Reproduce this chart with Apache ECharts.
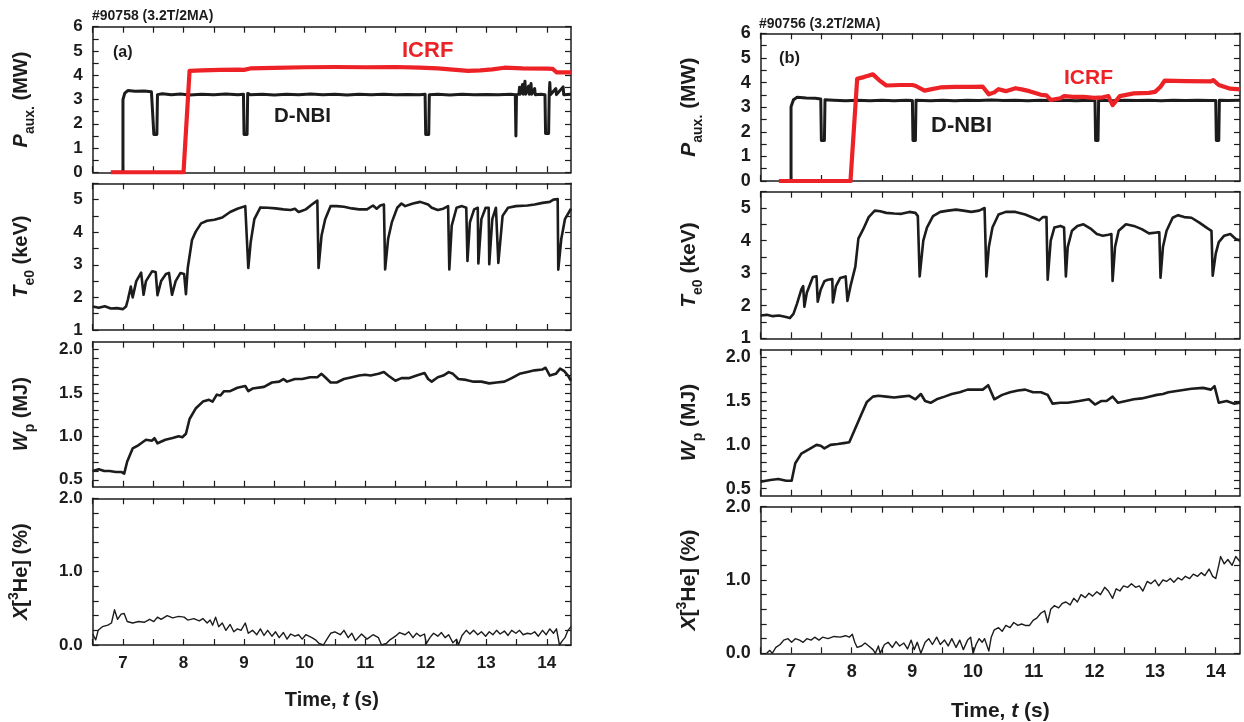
<!DOCTYPE html>
<html><head><meta charset="utf-8">
<script src="https://cdn.jsdelivr.net/npm/echarts@6/dist/echarts.min.js"></script>
<style>html,body{margin:0;padding:0;background:#fff}#c{width:1244px;height:722px}</style>
</head><body><div id="c"></div>
<script>
// ---------------- DATA ----------------
const timeTicks = [6.5,7,7.5,8,8.5,9,9.5,10,10.5,11,11.5,12,12.5,13,13.5,14];
const timeLabels = [7,8,9,10,11,12,13,14];
const pTicks = [0,0.5,1,1.5,2,2.5,3,3.5,4,4.5,5,5.5,6];
const pLabels = [0,1,2,3,4,5,6];
const teTicks = [1,1.5,2,2.5,3,3.5,4,4.5,5,5.5];
const teLabels = [1,2,3,4,5];
const wpTicks = [0.5,0.6,0.7,0.8,0.9,1.0,1.1,1.2,1.3,1.4,1.5,1.6,1.7,1.8,1.9,2.0];
const wpLabels = [0.5,1.0,1.5,2.0];
const heTicks = [0,0.2,0.4,0.6,0.8,1.0,1.2,1.4,1.6,1.8,2.0];
const heLabels = [0,1.0,2.0];

// shot #90758 (a)
const nbiA = [[6.8,0],[7.0,0],[7.0,3.0],[7.03,3.26],[7.08,3.37],[7.2,3.34],[7.35,3.35],[7.47,3.32],[7.5,3.28],[7.51,1.56],[7.56,1.56],[7.57,3.2],[7.65,3.24],[7.8,3.2],[7.95,3.23],[8.1,3.19],[8.3,3.22],[8.5,3.2],[8.7,3.23],[8.9,3.2],[8.99,3.22],[9.0,1.56],[9.05,1.56],[9.06,3.25],[9.1,3.2],[9.3,3.22],[9.5,3.19],[9.7,3.22],[9.9,3.2],[10.1,3.23],[10.3,3.2],[10.5,3.22],[10.7,3.19],[10.9,3.22],[11.1,3.2],[11.3,3.22],[11.5,3.2],[11.7,3.21],[11.9,3.2],[11.99,3.22],[12.0,1.56],[12.05,1.56],[12.06,3.2],[12.2,3.22],[12.4,3.19],[12.6,3.22],[12.8,3.2],[13.0,3.21],[13.2,3.2],[13.4,3.22],[13.48,3.2],[13.49,1.5],[13.5,3.2],[13.54,3.22],[13.55,3.5],[13.56,3.22],[13.6,3.62],[13.61,3.22],[13.64,3.75],[13.65,3.22],[13.7,3.55],[13.71,3.22],[13.74,3.66],[13.75,3.22],[13.8,3.45],[13.81,3.2],[13.9,3.22],[13.97,3.2],[13.98,1.6],[14.03,1.6],[14.04,3.2],[14.05,3.7],[14.06,3.2],[14.15,3.45],[14.16,3.2],[14.27,3.52],[14.28,3.2],[14.4,3.22]];
const icrfA = [[6.8,0],[8.0,0],[8.1,4.18],[8.3,4.2],[8.6,4.22],[8.9,4.23],[9.0,4.22],[9.1,4.28],[9.5,4.3],[10.0,4.33],[10.5,4.34],[11.0,4.33],[11.5,4.34],[11.9,4.31],[12.2,4.28],[12.5,4.22],[12.7,4.18],[12.9,4.2],[13.1,4.24],[13.3,4.31],[13.6,4.28],[14.0,4.27],[14.1,4.26],[14.16,4.12],[14.4,4.12]];
const teA = [[6.5,1.72],[6.6,1.68],[6.7,1.73],[6.8,1.66],[6.9,1.67],[7.0,1.64],[7.05,1.72],[7.08,1.92],[7.13,2.33],[7.16,2.0],[7.22,2.5],[7.3,2.76],[7.33,2.72],[7.34,2.08],[7.38,2.5],[7.48,2.8],[7.54,2.78],[7.57,2.07],[7.63,2.5],[7.71,2.72],[7.76,2.75],[7.81,2.08],[7.87,2.5],[7.95,2.75],[8.01,2.72],[8.04,2.1],[8.07,2.9],[8.14,3.76],[8.2,4.01],[8.29,4.27],[8.39,4.35],[8.51,4.38],[8.64,4.45],[8.77,4.62],[8.89,4.72],[9.02,4.8],[9.05,4.78],[9.07,2.9],[9.11,3.7],[9.17,4.4],[9.27,4.76],[9.39,4.75],[9.52,4.73],[9.65,4.7],[9.77,4.68],[9.84,4.72],[9.9,4.62],[9.96,4.66],[10.02,4.7],[10.12,4.85],[10.21,4.97],[10.23,2.9],[10.28,3.9],[10.34,4.4],[10.43,4.8],[10.53,4.8],[10.65,4.78],[10.78,4.73],[10.9,4.7],[11.03,4.7],[11.13,4.82],[11.19,4.72],[11.25,4.82],[11.31,4.85],[11.33,2.86],[11.38,3.8],[11.44,4.3],[11.53,4.75],[11.6,4.88],[11.66,4.8],[11.79,4.88],[11.91,4.93],[12.04,4.85],[12.1,4.75],[12.2,4.68],[12.29,4.72],[12.37,4.8],[12.39,2.86],[12.43,4.2],[12.51,4.75],[12.6,4.8],[12.67,4.75],[12.69,3.12],[12.73,4.3],[12.8,4.7],[12.86,4.75],[12.87,3.04],[12.92,4.4],[12.99,4.75],[13.04,4.75],[13.05,3.02],[13.1,4.4],[13.16,4.75],[13.19,4.7],[13.2,3.06],[13.27,4.5],[13.36,4.75],[13.49,4.8],[13.68,4.82],[13.8,4.85],[13.93,4.9],[14.05,4.93],[14.11,5.0],[14.18,5.02],[14.19,2.85],[14.24,3.8],[14.3,4.4],[14.4,4.72]];
const wpA = [[6.5,0.6],[6.6,0.62],[6.69,0.6],[6.78,0.6],[6.88,0.59],[6.97,0.59],[7.02,0.57],[7.07,0.71],[7.16,0.86],[7.26,0.9],[7.38,0.96],[7.48,0.95],[7.52,0.98],[7.57,0.92],[7.7,0.96],[7.82,0.98],[7.92,1.0],[7.98,0.99],[8.04,1.03],[8.1,1.2],[8.2,1.32],[8.32,1.4],[8.42,1.42],[8.48,1.4],[8.55,1.48],[8.61,1.47],[8.67,1.52],[8.77,1.52],[8.89,1.56],[9.02,1.58],[9.07,1.52],[9.14,1.55],[9.33,1.57],[9.46,1.62],[9.58,1.63],[9.65,1.66],[9.71,1.63],[9.84,1.66],[9.96,1.66],[10.09,1.68],[10.21,1.68],[10.28,1.72],[10.34,1.68],[10.43,1.62],[10.53,1.62],[10.65,1.66],[10.78,1.68],[10.9,1.7],[11.0,1.71],[11.09,1.7],[11.22,1.72],[11.31,1.74],[11.38,1.7],[11.5,1.64],[11.6,1.67],[11.72,1.67],[11.85,1.7],[11.98,1.73],[12.04,1.66],[12.1,1.63],[12.2,1.68],[12.29,1.7],[12.38,1.74],[12.45,1.72],[12.54,1.66],[12.67,1.65],[12.79,1.63],[12.92,1.63],[13.05,1.61],[13.17,1.62],[13.3,1.63],[13.42,1.67],[13.55,1.72],[13.68,1.74],[13.8,1.76],[13.93,1.77],[13.98,1.79],[14.05,1.7],[14.15,1.72],[14.22,1.78],[14.29,1.75],[14.35,1.7],[14.4,1.64]];
const he3A = [[6.5,0.15],[6.55,0.07],[6.59,0.2],[6.66,0.25],[6.75,0.27],[6.81,0.3],[6.86,0.48],[6.91,0.35],[6.97,0.42],[7.02,0.43],[7.07,0.32],[7.16,0.3],[7.26,0.32],[7.35,0.31],[7.44,0.35],[7.51,0.32],[7.57,0.38],[7.63,0.35],[7.73,0.4],[7.82,0.37],[7.92,0.39],[8.01,0.38],[8.07,0.34],[8.17,0.36],[8.26,0.33],[8.32,0.36],[8.39,0.3],[8.44,0.34],[8.48,0.27],[8.53,0.38],[8.58,0.25],[8.64,0.3],[8.7,0.2],[8.77,0.28],[8.83,0.18],[8.89,0.22],[8.95,0.2],[9.02,0.3],[9.07,0.16],[9.14,0.2],[9.21,0.14],[9.27,0.22],[9.33,0.13],[9.39,0.2],[9.46,0.12],[9.52,0.18],[9.58,0.1],[9.65,0.17],[9.71,0.08],[9.77,0.15],[9.84,0.12],[9.9,0.14],[9.96,0.08],[10.02,0.14],[10.12,0.1],[10.18,0.07],[10.24,0.02],[10.31,0.0],[10.37,0.08],[10.43,0.16],[10.5,0.18],[10.59,0.14],[10.65,0.2],[10.72,0.1],[10.78,0.16],[10.84,0.06],[10.94,0.15],[11.03,0.08],[11.13,0.14],[11.22,0.1],[11.27,0.0],[11.35,0.02],[11.41,0.07],[11.5,0.12],[11.57,0.17],[11.66,0.14],[11.72,0.18],[11.79,0.1],[11.85,0.16],[11.91,0.12],[11.98,0.15],[12.01,0.02],[12.07,0.1],[12.13,0.16],[12.2,0.12],[12.26,0.17],[12.32,0.1],[12.38,0.14],[12.45,0.03],[12.51,0.08],[12.54,0.0],[12.6,0.13],[12.67,0.2],[12.73,0.15],[12.79,0.2],[12.86,0.14],[12.92,0.18],[12.99,0.12],[13.05,0.18],[13.11,0.14],[13.17,0.2],[13.23,0.15],[13.3,0.19],[13.36,0.13],[13.42,0.2],[13.49,0.16],[13.55,0.2],[13.61,0.14],[13.68,0.16],[13.74,0.15],[13.8,0.18],[13.86,0.12],[13.93,0.2],[13.99,0.14],[14.05,0.22],[14.11,0.16],[14.16,0.22],[14.21,0.0],[14.25,0.05],[14.3,0.1],[14.35,0.2],[14.4,0.25]];

// shot #90756 (b)
const nbiB = [[6.8,0],[7.0,0],[7.0,3.02],[7.04,3.3],[7.1,3.4],[7.25,3.37],[7.4,3.36],[7.49,3.33],[7.5,1.65],[7.55,1.65],[7.56,3.3],[7.7,3.28],[7.9,3.26],[8.1,3.28],[8.3,3.26],[8.5,3.28],[8.7,3.26],[8.9,3.28],[9.0,3.27],[9.01,1.65],[9.05,1.65],[9.06,3.28],[9.3,3.26],[9.5,3.28],[9.7,3.26],[9.9,3.28],[10.1,3.27],[10.3,3.29],[10.5,3.27],[10.7,3.28],[10.9,3.26],[11.1,3.28],[11.3,3.27],[11.5,3.28],[11.7,3.26],[11.9,3.28],[12.01,3.27],[12.02,1.65],[12.06,1.65],[12.07,3.28],[12.3,3.26],[12.5,3.28],[12.7,3.27],[12.9,3.28],[13.1,3.26],[13.3,3.28],[13.5,3.27],[13.7,3.28],[13.9,3.27],[14.0,3.27],[14.01,1.65],[14.05,1.65],[14.06,3.28],[14.2,3.27],[14.4,3.28]];
const icrfB = [[6.8,0],[7.98,0],[8.09,4.15],[8.2,4.22],[8.3,4.3],[8.35,4.33],[8.45,4.1],[8.57,3.88],[8.8,3.9],[9.0,3.9],[9.05,3.87],[9.2,3.67],[9.3,3.72],[9.46,3.8],[9.7,3.82],[10.0,3.82],[10.16,3.83],[10.26,3.52],[10.35,3.6],[10.42,3.73],[10.54,3.65],[10.7,3.77],[10.8,3.72],[10.93,3.65],[11.12,3.5],[11.21,3.48],[11.28,3.29],[11.44,3.36],[11.5,3.45],[11.65,3.42],[11.82,3.42],[12.0,3.38],[12.14,3.4],[12.23,3.45],[12.3,3.08],[12.42,3.45],[12.65,3.56],[12.9,3.58],[13.0,3.62],[13.09,3.83],[13.12,3.8],[13.16,4.08],[13.5,4.06],[13.92,4.05],[13.96,4.1],[14.05,3.9],[14.24,3.75],[14.4,3.72]];
const teB = [[6.5,1.7],[6.6,1.72],[6.7,1.68],[6.8,1.7],[6.9,1.66],[6.98,1.62],[7.04,1.75],[7.1,2.07],[7.17,2.5],[7.2,2.6],[7.22,1.97],[7.26,2.4],[7.36,2.88],[7.42,2.9],[7.44,2.12],[7.49,2.5],[7.55,2.75],[7.61,2.8],[7.68,2.82],[7.69,2.1],[7.74,2.6],[7.81,2.85],[7.9,2.9],[7.93,2.15],[7.98,2.6],[8.06,3.2],[8.11,4.06],[8.19,4.35],[8.28,4.72],[8.38,4.92],[8.47,4.9],[8.57,4.85],[8.7,4.83],[8.82,4.82],[8.95,4.88],[9.05,4.85],[9.09,4.75],[9.12,2.9],[9.18,4.0],[9.24,4.4],[9.34,4.75],[9.46,4.88],[9.59,4.92],[9.72,4.95],[9.84,4.92],[9.97,4.88],[10.1,4.92],[10.19,5.0],[10.22,2.9],[10.26,3.8],[10.32,4.4],[10.42,4.8],[10.54,4.88],[10.7,4.88],[10.86,4.8],[10.99,4.7],[11.09,4.62],[11.15,4.72],[11.21,4.72],[11.23,2.8],[11.28,4.0],[11.34,4.4],[11.44,4.45],[11.5,4.4],[11.53,2.9],[11.56,3.8],[11.63,4.3],[11.72,4.45],[11.82,4.5],[11.95,4.35],[12.04,4.2],[12.14,4.15],[12.23,4.18],[12.28,4.2],[12.3,2.76],[12.34,3.8],[12.4,4.3],[12.52,4.5],[12.65,4.45],[12.78,4.35],[12.9,4.22],[13.03,4.25],[13.07,4.25],[13.09,2.86],[13.13,3.8],[13.19,4.3],[13.29,4.7],[13.38,4.78],[13.48,4.72],[13.6,4.7],[13.73,4.55],[13.86,4.38],[13.93,4.3],[13.95,2.92],[14.0,3.6],[14.05,3.95],[14.14,4.15],[14.24,4.2],[14.33,4.05],[14.4,4.0]];
const wpB = [[6.5,0.58],[6.66,0.6],[6.79,0.61],[6.92,0.59],[7.01,0.59],[7.07,0.79],[7.17,0.9],[7.3,0.95],[7.42,1.0],[7.49,0.99],[7.55,0.96],[7.65,1.0],[7.77,1.01],[7.87,1.02],[7.96,1.03],[7.99,1.02],[8.06,1.19],[8.16,1.35],[8.25,1.49],[8.35,1.55],[8.44,1.56],[8.57,1.55],[8.7,1.54],[8.82,1.55],[8.95,1.56],[9.05,1.52],[9.14,1.58],[9.21,1.5],[9.3,1.48],[9.4,1.52],[9.53,1.55],[9.65,1.58],[9.78,1.6],[9.91,1.63],[10.04,1.63],[10.16,1.63],[10.25,1.68],[10.35,1.52],[10.48,1.57],[10.61,1.6],[10.74,1.62],[10.86,1.63],[10.99,1.6],[11.12,1.6],[11.23,1.57],[11.31,1.47],[11.44,1.48],[11.56,1.48],[11.75,1.5],[11.91,1.52],[12.01,1.46],[12.11,1.5],[12.2,1.5],[12.3,1.55],[12.39,1.48],[12.52,1.5],[12.65,1.52],[12.78,1.53],[12.9,1.55],[13.03,1.57],[13.13,1.58],[13.22,1.6],[13.41,1.62],[13.6,1.64],[13.79,1.65],[13.92,1.63],[13.98,1.67],[14.05,1.48],[14.18,1.5],[14.3,1.47],[14.4,1.48]];
const he3B = [[6.6,0.0],[6.65,0.04],[6.69,0.0],[6.75,0.08],[6.82,0.12],[6.88,0.18],[6.95,0.2],[7.01,0.15],[7.07,0.2],[7.14,0.18],[7.2,0.15],[7.26,0.2],[7.33,0.18],[7.39,0.22],[7.46,0.18],[7.52,0.22],[7.61,0.2],[7.71,0.23],[7.81,0.22],[7.9,0.24],[7.96,0.22],[8.01,0.26],[8.05,0.15],[8.09,0.08],[8.16,0.1],[8.22,0.14],[8.28,0.1],[8.35,0.05],[8.39,0.0],[8.44,0.1],[8.47,0.0],[8.54,0.12],[8.6,0.15],[8.67,0.08],[8.73,0.16],[8.79,0.1],[8.86,0.14],[8.92,0.06],[8.98,0.18],[9.03,0.05],[9.08,0.15],[9.14,0.0],[9.21,0.15],[9.27,0.2],[9.33,0.12],[9.4,0.22],[9.46,0.12],[9.53,0.18],[9.59,0.1],[9.65,0.2],[9.72,0.08],[9.78,0.18],[9.84,0.05],[9.91,0.18],[9.96,0.22],[10.0,0.0],[10.05,0.12],[10.1,0.2],[10.15,0.15],[10.19,0.2],[10.26,0.03],[10.3,0.22],[10.35,0.32],[10.42,0.35],[10.48,0.3],[10.54,0.38],[10.61,0.35],[10.67,0.42],[10.74,0.38],[10.8,0.4],[10.86,0.38],[10.93,0.38],[10.99,0.45],[11.05,0.48],[11.12,0.55],[11.18,0.58],[11.23,0.42],[11.28,0.6],[11.34,0.65],[11.41,0.62],[11.47,0.68],[11.53,0.7],[11.6,0.66],[11.66,0.75],[11.72,0.7],[11.78,0.8],[11.85,0.76],[11.91,0.82],[11.97,0.78],[12.04,0.84],[12.1,0.8],[12.17,0.9],[12.23,0.85],[12.3,0.75],[12.36,0.88],[12.42,0.85],[12.48,0.92],[12.55,0.9],[12.61,0.95],[12.68,0.9],[12.74,0.92],[12.8,0.85],[12.87,0.98],[12.93,0.95],[13.0,1.0],[13.06,0.92],[13.13,1.0],[13.19,0.98],[13.25,1.02],[13.31,0.97],[13.38,1.03],[13.44,1.0],[13.5,1.05],[13.57,1.02],[13.63,1.08],[13.7,1.05],[13.76,1.1],[13.82,1.06],[13.89,1.15],[13.95,1.05],[14.0,1.02],[14.05,1.2],[14.08,1.32],[14.14,1.22],[14.2,1.28],[14.27,1.2],[14.33,1.32],[14.4,1.25]];

const headerA = '#90758 (3.2T/2MA)';
const headerB = '#90756 (3.2T/2MA)';

// ---------------- LAYOUT / STYLE ----------------
const FONT = '"Liberation Sans", Arial, Helvetica, sans-serif';
const INK = '#1c1c1c';
const RED = '#ec2227';
const cols = [
  {left:92.7, width:478.3, tops:[26.7,183.3,341.7,498.3], heights:[145.6,146.7,145,146.7], tick:17, name:20, xGap:40, yGap:56},
  {left:760.7, width:479.3, tops:[33.3,191.7,349.3,506.7], heights:[147.7,146.6,146.4,146.6], tick:18, name:21, xGap:43, yGap:56}
];
const rowsSpec = [
  {min:0, max:6, ticks:pTicks, labels:pLabels, dec:0, name:'{i|P}{sub|aux.}{n| (MW)}'},
  {min:1, max:5.5, ticks:teTicks, labels:teLabels, dec:0, name:'{i|T}{sub|e0}{n| (keV)}'},
  {min:0.42, max:2.09, ticks:wpTicks, labels:wpLabels, dec:1, name:'{i|W}{sub|p}{n| (MJ)}'},
  {min:0, max:2, ticks:heTicks, labels:heLabels, dec:1, name:'{i|X}{n|[}{sup|3}{n|He] (%)}'}
];
const seriesData = [
  [[nbiA, INK, 3, 'D-NBI'], [icrfA, RED, 4.2, 'ICRF']],
  [[teA, INK, 2.6, 'Te0']],
  [[wpA, INK, 2.6, 'Wp']],
  [[he3A, INK, 1.4, 'X3He']],
  [[nbiB, INK, 3, 'D-NBI'], [icrfB, RED, 4.2, 'ICRF']],
  [[teB, INK, 2.6, 'Te0']],
  [[wpB, INK, 2.6, 'Wp']],
  [[he3B, INK, 1.4, 'X3He']]
];

const grids = [], xAxes = [], yAxes = [], series = [];
const lineSt = {color: INK, width: 1.5};
const tickSt = {color: INK, width: 1.2};
function rich(fs) {
  return {
    n: {fontFamily: FONT, fontSize: fs, fontWeight: 'bold', color: INK, lineHeight: 30},
    i: {fontFamily: FONT, fontSize: fs, fontWeight: 'bold', fontStyle: 'italic', color: INK, lineHeight: 30},
    sub: {fontFamily: FONT, fontSize: Math.round(fs*0.68), fontWeight: 'bold', color: INK, lineHeight: 15, verticalAlign: 'bottom'},
    sup: {fontFamily: FONT, fontSize: Math.round(fs*0.68), fontWeight: 'bold', color: INK, lineHeight: 15, verticalAlign: 'top'}
  };
}
cols.forEach((c, ci) => {
  rowsSpec.forEach((r, ri) => {
    const g = ci*4 + ri;
    grids.push({left: c.left, top: c.tops[ri], width: c.width, height: c.heights[ri], containLabel: false, outerBoundsMode: 'none'});
    const bottom = ri === 3;
    xAxes.push({
      type: 'value', gridIndex: g, position: 'bottom', min: 6.5, max: 14.4,
      axisLine: {show: true, onZero: false, lineStyle: lineSt},
      axisTick: {show: true, inside: true, length: 6, lineStyle: tickSt, customValues: timeTicks},
      axisLabel: {show: bottom, customValues: timeLabels, margin: 10, color: INK, fontFamily: FONT, fontWeight: 'bold', fontSize: c.tick},
      splitLine: {show: false},
      name: bottom ? '{n|Time, }{i|t}{n| (s)}' : '',
      nameLocation: 'middle', nameGap: c.xGap,
      nameTextStyle: {rich: rich(c.name)}
    });
    xAxes.push({
      type: 'value', gridIndex: g, position: 'top', min: 6.5, max: 14.4,
      axisLine: {show: true, onZero: false, lineStyle: lineSt},
      axisTick: {show: true, inside: true, length: 6, lineStyle: tickSt, customValues: timeTicks},
      axisLabel: {show: false}, splitLine: {show: false}
    });
    yAxes.push({
      type: 'value', gridIndex: g, position: 'left', min: r.min, max: r.max,
      axisLine: {show: true, onZero: false, lineStyle: lineSt},
      axisTick: {show: true, inside: true, length: 6, lineStyle: tickSt, customValues: r.ticks},
      axisLabel: {show: true, customValues: r.labels, margin: 10, color: INK, fontFamily: FONT, fontWeight: 'bold', fontSize: c.tick,
        formatter: v => v.toFixed(r.dec)},
      splitLine: {show: false},
      name: r.name, nameLocation: 'middle', nameRotate: 90, nameGap: c.yGap,
      nameTextStyle: {rich: rich(c.name)}
    });
    yAxes.push({
      type: 'value', gridIndex: g, position: 'right', min: r.min, max: r.max,
      axisLine: {show: true, onZero: false, lineStyle: lineSt},
      axisTick: {show: true, inside: true, length: 6, lineStyle: tickSt, customValues: r.ticks},
      axisLabel: {show: false}, splitLine: {show: false}
    });
    seriesData[g].forEach(([d, col, w, nm]) => {
      series.push({
        type: 'line', name: nm, data: d, xAxisIndex: g*2, yAxisIndex: g*2,
        showSymbol: false, symbol: 'none', clip: true,
        lineStyle: {color: col, width: w, join: 'round'}, itemStyle: {color: col},
        emphasis: {disabled: true}
      });
    });
  });
});

function txt(x, y, s, size, color, align) {
  return {type: 'text', x: x, y: y, silent: true,
    style: {text: s, fontFamily: FONT, fontWeight: 'bold', fontSize: size, fill: color, align: align || 'left', verticalAlign: 'middle'}};
}
const graphic = [
  txt(92, 16, headerA, 14, INK),
  txt(759, 24, headerB, 14, INK),
  txt(113, 53, '(a)', 16, INK),
  txt(779, 58.5, '(b)', 16.5, INK),
  txt(402, 51, 'ICRF', 22, RED),
  txt(1064, 78.5, 'ICRF', 21, RED),
  txt(274, 116.5, 'D-NBI', 20.5, INK),
  txt(931, 126, 'D-NBI', 22, INK)
];

const chart = echarts.init(document.getElementById('c'), null, {renderer: 'canvas'});
chart.setOption({
  animation: false,
  backgroundColor: '#ffffff',
  grid: grids, xAxis: xAxes, yAxis: yAxes, series: series, graphic: graphic
});
</script></body></html>
